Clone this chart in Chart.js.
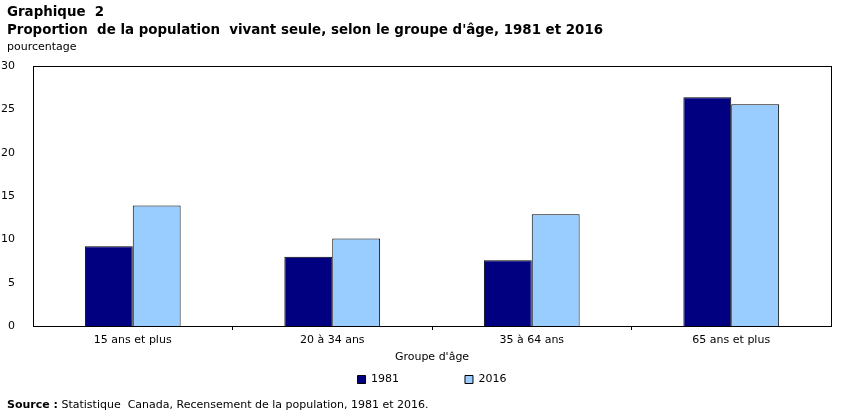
<!DOCTYPE html>
<html>
<head>
<meta charset="utf-8">
<script src="https://cdn.jsdelivr.net/npm/chart.js@4"></script>
<style>
  body { margin: 0; background: #fff; font-family: Verdana, "DejaVu Sans", sans-serif; }
  .wrap { position: relative; width: 851px; height: 416px; }
  .titre { position: absolute; left: 7px; top: 3px; font-size: 13.4px; font-weight: bold; line-height: 18px; color: #000; }
  .unite { position: absolute; left: 7px; top: 40px; font-size: 11px; color: #000; }
  .source { position: absolute; left: 7px; top: 398px; font-size: 11px; color: #000; }
  canvas { position: absolute; left: 0; top: 0; }
</style>
</head>
<body>
<div class="wrap">
  <canvas id="graphique" width="851" height="416"></canvas>
  <div class="titre">Graphique&nbsp; 2<br>Proportion&nbsp; de la population&nbsp; vivant seule, selon le groupe d'âge, 1981 et 2016</div>
  <div class="unite">pourcentage</div>
  <div class="source"><b>Source&nbsp;:</b> Statistique&nbsp; Canada, Recensement de la population, 1981 et 2016.</div>
</div>
<script>
const groupes = ['15 ans et plus', '20 à 34 ans', '35 à 64 ans', '65 ans et plus'];
const valeurs1981 = [9.2, 8.0, 7.6, 26.4];
const valeurs2016 = [13.9, 10.1, 12.9, 25.6];
const ticksY = [0, 5, 10, 15, 20, 25, 30];

const cadre = {
  id: 'cadre',
  afterDatasetsDraw(chart) {
    const a = chart.chartArea;
    const ctx = chart.ctx;
    ctx.save();
    ctx.strokeStyle = '#000';
    ctx.lineWidth = 1;
    ctx.strokeRect(Math.round(a.left) + 0.5, Math.round(a.top) + 0.5, Math.round(a.right - a.left), Math.round(a.bottom - a.top));
    ctx.restore();
  }
};

Chart.defaults.font.family = 'Verdana, "DejaVu Sans", sans-serif';
Chart.defaults.font.size = 11;
Chart.defaults.color = '#000';

new Chart(document.getElementById('graphique'), {
  type: 'bar',
  data: {
    labels: groupes,
    datasets: [
      { label: '1981', data: valeurs1981, backgroundColor: '#000080', borderColor: '#000', borderWidth: 1 },
      { label: '2016', data: valeurs2016, backgroundColor: '#99CCFF', borderColor: '#000', borderWidth: 1 }
    ]
  },
  options: {
    responsive: false,
    animation: false,
    layout: { padding: { top: 66, right: 20, left: 0, bottom: 21 } },
    datasets: { bar: { barPercentage: 1, categoryPercentage: 0.48 } },
    plugins: {
      title: { display: false },
      tooltip: { enabled: false },
      legend: {
        position: 'bottom',
        fullSize: false,
        labels: {
          boxWidth: 8,
          boxHeight: 8,
          padding: 10,
          font: { size: 11 },
          generateLabels(chart) {
            const items = Chart.defaults.plugins.legend.labels.generateLabels(chart);
            items.forEach((it, i) => {
              it.lineWidth = 1;
              it.strokeStyle = '#000';
              if (i < items.length - 1) it.text = it.text + '\u00a0'.repeat(16);
            });
            return items;
          }
        }
      }
    },
    scales: {
      x: {
        grid: {
          offset: true,
          drawOnChartArea: false,
          tickLength: 4,
          // pas de trait aux deux bords du cadre
          color: ctx => (ctx.type !== 'tick' || ctx.index === 0) ? 'rgba(0,0,0,0)' : '#000'
        },
        border: { color: '#000' },
        ticks: { padding: 4 },
        title: { display: true, text: "Groupe d'âge", padding: { top: 2, bottom: 0 } },
        afterFit(scale) { scale.height = 38; }
      },
      y: {
        min: 0,
        max: 30,
        afterBuildTicks(scale) { scale.ticks = ticksY.map(v => ({ value: v })); },
        grid: { display: false },
        border: { color: '#000' },
        ticks: { padding: 10 },
        afterFit(scale) { scale.width = 33; }
      }
    }
  },
  plugins: [cadre]
});
</script>
</body>
</html>
